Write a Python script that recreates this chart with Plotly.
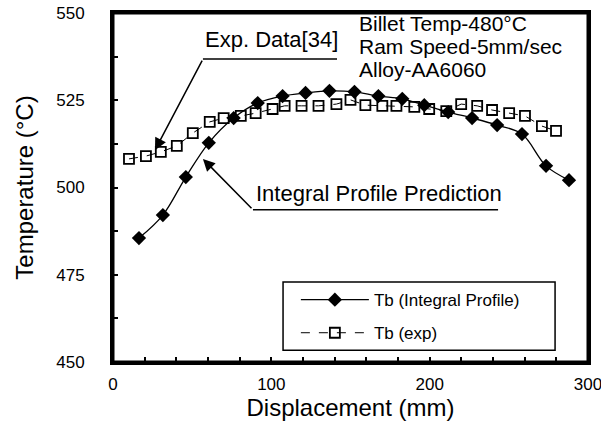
import plotly.graph_objects as go

# Integral profile prediction (diamonds)
disp_pred = [16.4, 31.5, 46, 60.5, 76.2, 91.4, 107.1, 121.6, 136.7, 152.5, 167.6,
             182.7, 196.6, 211.7, 226.8, 242.6, 258.3, 273.5, 288]
temp_pred = [485.5, 492.1, 503, 512.8, 519.9, 524.2, 526.2, 527.1, 527.7, 527.4, 526.2,
             525.4, 523.6, 521.6, 519.9, 517.9, 515.3, 506.2, 502.1]

# Experimental data (open squares)
disp_exp = [10.1, 20.8, 30.2, 40.3, 50.4, 61.1, 69.9, 80.7, 90.1, 100.8, 108.4, 119.1,
            129.8, 141.1, 150.0, 159.4, 170.1, 179.0, 190.3, 199.7, 210.5, 219.9, 230.0,
            239.4, 250.2, 260.2, 270.9, 279.8]
temp_exp = [508.2, 509.0, 510.2, 511.9, 515.6, 518.8, 519.9, 520.5, 521.3, 522.5, 523.4, 523.4,
            523.4, 523.9, 525.1, 523.6, 523.4, 523.4, 523.1, 522.5, 521.9, 523.9, 523.4,
            522.2, 521.3, 520.5, 517.6, 516.2]

x_ticks = [0, 100, 200, 300]
y_ticks = [450, 475, 500, 525, 550]
info_lines = ["Billet Temp-480°C", "Ram Speed-5mm/sec", "Alloy-AA6060"]

FONT = "Liberation Sans, Arial, sans-serif"

fig = go.Figure()
fig.add_trace(go.Scatter(
    x=disp_pred, y=temp_pred, mode="lines+markers", name="Tb (Integral Profile)",
    legendgroup="a",
    line=dict(color="black", width=1.3, shape="spline"),
    marker=dict(symbol="diamond", size=11, color="black"),
))
fig.add_trace(go.Scatter(
    x=disp_exp, y=temp_exp, mode="lines+markers", name="Tb (exp)",
    legendgroup="b",
    line=dict(color="black", width=1, dash="dash"),
    marker=dict(symbol="square-open", size=10, color="black", line=dict(width=1.8)),
))

axis_common = dict(
    showline=True, linecolor="black", linewidth=3, mirror=True,
    ticks="inside", ticklen=5, tickwidth=2, tickcolor="black",
    showgrid=False, zeroline=False, automargin=False, ticklabeloverflow="allow",
    tickfont=dict(family=FONT, size=17, color="black"),
)

fig.update_xaxes(
    range=[0, 300], tickvals=x_ticks, ticklabelstandoff=5,
    minor=dict(dtick=20, ticks="inside", ticklen=5, tickwidth=2, tickcolor="black"),
    title=dict(text="Displacement (mm)", font=dict(family=FONT, size=24, color="black"), standoff=4),
    **axis_common,
)
fig.update_yaxes(
    range=[450, 550], tickvals=y_ticks, ticklabelstandoff=22,
    minor=dict(dtick=12.5, ticks="inside", ticklen=5, tickwidth=2, tickcolor="black"),
    title=dict(text="Temperature (°C)", font=dict(family=FONT, size=24, color="black"), standoff=16),
    **axis_common,
)

# Full frame around the plot area
fig.add_shape(type="rect", x0=0, x1=1, y0=0, y1=1, xref="paper", yref="paper",
              line=dict(color="black", width=3), layer="above")

ann_font = dict(family=FONT, size=22, color="black")

# Exp. Data[34] label, underline and arrow
fig.add_annotation(x=99.8, y=542.3, xref="x", yref="y", text="Exp. Data[34]",
                   showarrow=False, font=ann_font)
fig.add_shape(type="line", x0=56.8, x1=141.5, y0=536.8, y1=536.8, xref="x", yref="y",
              line=dict(color="black", width=1.5))
fig.add_annotation(x=26.5, y=510.7, ax=56.8, ay=536.8, xref="x", yref="y", axref="x", ayref="y",
                   text="", showarrow=True, arrowhead=2, arrowsize=1.6, arrowwidth=1.5,
                   arrowcolor="black")

# Integral Profile Prediction label, underline and arrow
fig.add_annotation(x=168.0, y=498.4, xref="x", yref="y", text="Integral Profile Prediction",
                   showarrow=False, font=ann_font)
fig.add_shape(type="line", x0=88.4, x1=243.2, y0=493.6, y1=493.6, xref="x", yref="y",
              line=dict(color="black", width=1.5))
fig.add_annotation(x=56.8, y=508.2, ax=88.4, ay=493.6, xref="x", yref="y", axref="x", ayref="y",
                   text="", showarrow=True, arrowhead=2, arrowsize=1.6, arrowwidth=1.5,
                   arrowcolor="black")

# Conditions text block (one annotation per line)
for line, yv in zip(info_lines, [547.0, 540.4, 533.8]):
    fig.add_annotation(x=155, y=yv, xref="x", yref="y", xanchor="left", yanchor="middle",
                       showarrow=False, text=line, borderpad=0,
                       font=dict(family=FONT, size=21, color="black"))

# Legend frame
fig.add_shape(type="rect", x0=107.4, x1=279.2, y0=453.4, y1=472.9, xref="x", yref="y",
              line=dict(color="black", width=1.5), layer="below")

fig.update_layout(
    width=601, height=440,
    margin=dict(l=113, r=13, t=13, b=78),
    paper_bgcolor="white", plot_bgcolor="white",
    showlegend=True,
    legend=dict(x=0.385, y=0.229, xanchor="left", yanchor="top",
                borderwidth=0, bgcolor="rgba(0,0,0,0)",
                font=dict(family=FONT, size=17, color="black"),
                itemwidth=68, tracegroupgap=8),
    font=dict(family=FONT, color="black"),
)

# Remove the default page margin so the 601x440 figure fills the window exactly
fig.write_html("out.html", config={"displayModeBar": False},
               post_script="document.body.style.margin='0';document.body.style.overflow='hidden';")
